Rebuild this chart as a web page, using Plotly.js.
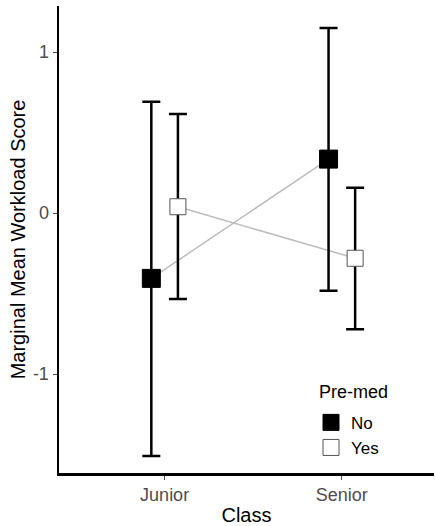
<!DOCTYPE html>
<html><head><meta charset="utf-8">
<script src="https://cdn.plot.ly/plotly-3.0.1.min.js"></script>
<style>html,body{margin:0;padding:0;background:#fff}#c{width:435px;height:526px}</style>
</head><body><div id="c"></div>
<script>
const categories = ["Junior", "Senior"];
const groups = ["No", "Yes"];
const means = { No: [-0.406, 0.335], Yes: [0.039, -0.281] };
const upper = { No: [0.691, 1.149], Yes: [0.615, 0.157] };
const lower = { No: [-1.509, -0.483], Yes: [-0.534, -0.722] };
const dodge = { No: -0.075, Yes: 0.075 };
const fillColors = { No: "#000000", Yes: "#ffffff" };
const edgeColors = { No: "#000000", Yes: "#555555" };

const catIndex = categories.map((c, i) => i + 1);
const traces = [];
groups.forEach(g => {
  const xs = catIndex.map(i => i + dodge[g]);
  traces.push({
    x: xs, y: means[g], mode: "lines", type: "scatter",
    line: { color: "#bdbdbd", width: 1.5 }, showlegend: false, hoverinfo: "skip"
  });
});
groups.forEach(g => {
  const xs = catIndex.map(i => i + dodge[g]);
  traces.push({
    x: xs, y: means[g], mode: "markers", type: "scatter", name: g, legendgroup: g,
    marker: { symbol: "square", size: g === "No" ? 18 : 16, color: fillColors[g], line: { color: edgeColors[g], width: 1 } },
    error_y: {
      type: "data", symmetric: false,
      array: means[g].map((m, i) => upper[g][i] - m),
      arrayminus: means[g].map((m, i) => m - lower[g][i]),
      color: "#000000", thickness: 2.5, width: 9
    }
  });
});

const layout = {
  width: 435, height: 526,
  margin: { l: 59, r: 1, t: 6, b: 53 },
  paper_bgcolor: "#fff", plot_bgcolor: "#fff",
  font: { family: "Liberation Sans, Arial, sans-serif", color: "#000" },
  showlegend: true,
  legend: {
    x: (311 - 59) / 375, xanchor: "left", y: 0.146, yanchor: "top",
    font: { size: 17, color: "#000" }, bgcolor: "rgba(0,0,0,0)", tracegroupgap: 0,
    traceorder: "grouped"
  },
  annotations: [{
    text: "Pre-med", xref: "paper", yref: "paper",
    x: (317 - 59) / 375, xanchor: "left", y: (473 - 392) / 467, yanchor: "middle",
    showarrow: false, font: { size: 18, color: "#000" }
  }],
  xaxis: {
    range: [0.404, 2.52], tickvals: catIndex, ticktext: categories,
    showgrid: false, zeroline: false, showline: true, linecolor: "#000", linewidth: 2.5,
    ticks: "outside", ticklen: 4, tickcolor: "#4d4d4d", tickwidth: 1,
    tickfont: { size: 18, color: "#4d4d4d" },
    title: { text: "Class", font: { size: 20, color: "#000" }, standoff: 6 }
  },
  yaxis: {
    range: [-1.615, 1.286], tickvals: [-1, 0, 1], ticktext: ["-1", "0", "1"],
    showgrid: false, zeroline: false, showline: true, linecolor: "#000", linewidth: 2.5,
    ticks: "outside", ticklen: 4, tickcolor: "#4d4d4d", tickwidth: 1,
    tickfont: { size: 18, color: "#4d4d4d" },
    title: { text: "Marginal Mean Workload Score", font: { size: 20, color: "#000" }, standoff: 2 }
  }
};
Plotly.newPlot("c", traces, layout, { displayModeBar: false, staticPlot: true });
</script></body></html>
